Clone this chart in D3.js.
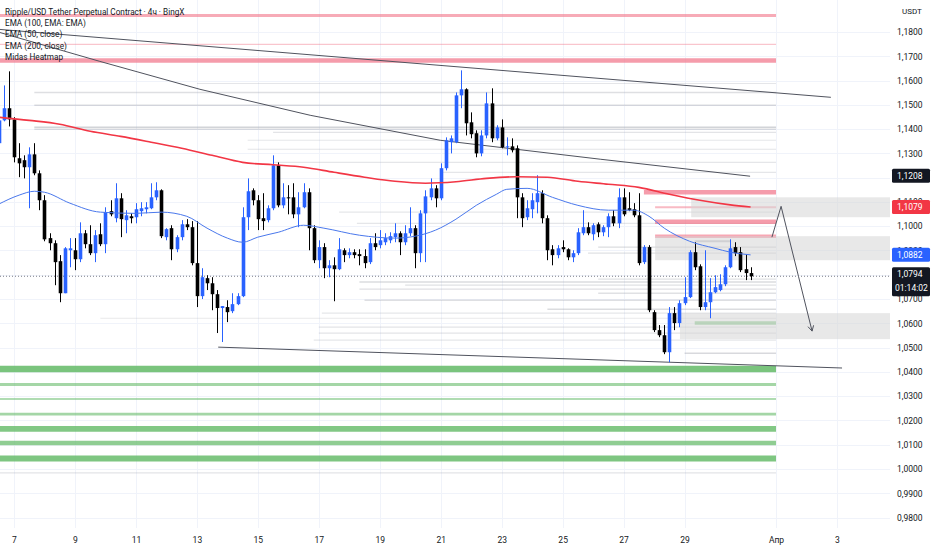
<!DOCTYPE html>
<html>
<head>
<meta charset="utf-8">
<title>Ripple/USD Tether Perpetual Contract 4h</title>
<script src="https://cdn.jsdelivr.net/npm/d3@7/dist/d3.min.js"></script>
<style>
  body { margin: 0; background: #fff; }
  svg { display: block; font-family: Roboto, "Noto Sans", sans-serif; }
</style>
</head>
<body>
<div id="chart"></div>
<script>
// ---- data -------------------------------------------------------------
// 4h candles, first one is 6 Mar 12:00 (bar -3), one row per day
var firstBar = -3;
var opens = [
  1.1342, 1.1436, 1.1486,
  1.1440, 1.1280, 1.1272, 1.1243, 1.1296, 1.1218,
  1.1107, 1.0951, 1.0930, 1.0856, 1.0724, 1.0901,
  1.0901, 1.0864, 1.0971, 1.0926, 1.0889, 1.0967,
  1.0926, 1.1062, 1.1033, 1.1115, 1.1025, 1.1041,
  1.1037, 1.1062, 1.1070, 1.1074, 1.1119, 1.1148,
  1.0955, 1.0992, 1.0905, 1.0955, 1.1008, 1.0996,
  1.0848, 1.0712, 1.0786, 1.0765, 1.0720, 1.0663,
  1.0667, 1.0650, 1.0679, 1.0712, 1.1037, 1.1148,
  1.1107, 1.1033, 1.1025, 1.1074, 1.1251, 1.1086,
  1.1119, 1.1119, 1.1049, 1.1078, 1.1140, 1.0992,
  1.0860, 1.0914, 1.0827, 1.0839, 1.0823, 1.0901,
  1.0881, 1.0893, 1.0885, 1.0877, 1.0852, 1.0930,
  1.0922, 1.0934, 1.0942, 1.0955, 1.0971, 1.0934,
  1.0971, 1.0992, 1.0889, 1.1053, 1.1119, 1.1156,
  1.1115, 1.1239, 1.1346, 1.1346, 1.1539, 1.1564,
  1.1428, 1.1383, 1.1300, 1.1374, 1.1506, 1.1362,
  1.1407, 1.1325, 1.1329, 1.1321, 1.1119, 1.1037,
  1.1070, 1.1099, 1.1136, 1.1033, 1.0905, 1.0881,
  1.0914, 1.0905, 1.0872, 1.0889, 1.0971, 1.0996,
  1.0967, 1.1008, 1.0975, 1.0996, 1.1041, 1.1012,
  1.1119, 1.1074, 1.1070, 1.1045, 1.0852, 1.0914,
  1.0646, 1.0572, 1.0551, 1.0481, 1.0642, 1.0601,
  1.0683, 1.0708, 1.0893, 1.0835, 1.0667, 1.0687,
  1.0728, 1.0737, 1.0761, 1.0831, 1.0914, 1.0893,
  1.0823, 1.0807
];
var highs = [
  1.1444, 1.1580, 1.1638,
  1.1449, 1.1342, 1.1292, 1.1325, 1.1342, 1.1230,
  1.1128, 1.0971, 1.0942, 1.0881, 1.0914, 1.0951,
  1.0951, 1.1016, 1.0984, 1.1004, 1.0984, 1.1012,
  1.1078, 1.1107, 1.1177, 1.1136, 1.1066, 1.1053,
  1.1095, 1.1099, 1.1099, 1.1177, 1.1181, 1.1152,
  1.0992, 1.1004, 1.0963, 1.1025, 1.1029, 1.1021,
  1.1021, 1.0827, 1.0798, 1.0790, 1.0737, 1.0671,
  1.0695, 1.0724, 1.0724, 1.1078, 1.1197, 1.1156,
  1.1128, 1.1136, 1.1086, 1.1292, 1.1263, 1.1177,
  1.1169, 1.1177, 1.1140, 1.1177, 1.1156, 1.1004,
  1.0942, 1.0930, 1.0860, 1.0872, 1.0951, 1.0909,
  1.0909, 1.0905, 1.0905, 1.0905, 1.0951, 1.0971,
  1.0984, 1.0971, 1.0975, 1.1012, 1.0979, 1.1004,
  1.1078, 1.1004, 1.1066, 1.1148, 1.1197, 1.1169,
  1.1259, 1.1366, 1.1374, 1.1551, 1.1642, 1.1568,
  1.1469, 1.1395, 1.1395, 1.1551, 1.1568, 1.1416,
  1.1440, 1.1366, 1.1362, 1.1333, 1.1136, 1.1107,
  1.1136, 1.1210, 1.1148, 1.1045, 1.0922, 1.0922,
  1.0942, 1.0909, 1.0901, 1.0992, 1.1066, 1.1016,
  1.1012, 1.1016, 1.1004, 1.1053, 1.1066, 1.1156,
  1.1156, 1.1140, 1.1095, 1.1136, 1.0922, 1.0922,
  1.0654, 1.0593, 1.0593, 1.0667, 1.0667, 1.0695,
  1.0790, 1.0901, 1.0934, 1.0843, 1.0901, 1.0786,
  1.0798, 1.0802, 1.0839, 1.0946, 1.0934, 1.0914,
  1.0885, 1.0831
];
var lows = [
  1.1329, 1.1432, 1.1411,
  1.1263, 1.1202, 1.1197, 1.1074, 1.1210, 1.1066,
  1.0938, 1.0901, 1.0757, 1.0687, 1.0724, 1.0831,
  1.0819, 1.0852, 1.0909, 1.0881, 1.0852, 1.0918,
  1.0889, 1.1041, 1.1016, 1.0955, 1.0971, 1.1012,
  1.1012, 1.1041, 1.1053, 1.1070, 1.1107, 1.0951,
  1.0942, 1.0860, 1.0893, 1.0942, 1.0984, 1.0839,
  1.0667, 1.0700, 1.0737, 1.0654, 1.0560, 1.0523,
  1.0605, 1.0642, 1.0675, 1.0708, 1.0984, 1.1086,
  1.0984, 1.0984, 1.1016, 1.1066, 1.1078, 1.1074,
  1.1049, 1.1033, 1.0996, 1.1074, 1.0901, 1.0848,
  1.0827, 1.0786, 1.0790, 1.0691, 1.0819, 1.0852,
  1.0868, 1.0868, 1.0839, 1.0827, 1.0844, 1.0901,
  1.0909, 1.0922, 1.0930, 1.0934, 1.0881, 1.0922,
  1.0959, 1.0827, 1.0852, 1.0852, 1.1107, 1.1078,
  1.1107, 1.1230, 1.1300, 1.1342, 1.1486, 1.1374,
  1.1362, 1.1284, 1.1288, 1.1362, 1.1346, 1.1354,
  1.1321, 1.1292, 1.1304, 1.1033, 1.0996, 1.1025,
  1.1033, 1.1053, 1.1012, 1.0860, 1.0839, 1.0868,
  1.0893, 1.0860, 1.0852, 1.0881, 1.0963, 1.0963,
  1.0942, 1.0955, 1.0959, 1.0955, 1.1000, 1.0992,
  1.1041, 1.1062, 1.1037, 1.0839, 1.0844, 1.0646,
  1.0564, 1.0543, 1.0473, 1.0440, 1.0572, 1.0584,
  1.0675, 1.0704, 1.0819, 1.0654, 1.0654, 1.0621,
  1.0724, 1.0732, 1.0753, 1.0827, 1.0877, 1.0811,
  1.0778, 1.0778
];
var closes = [
  1.1436, 1.1486, 1.1440,
  1.1284, 1.1259, 1.1243, 1.1296, 1.1218, 1.1107,
  1.0946, 1.0930, 1.0852, 1.0724, 1.0909, 1.0909,
  1.0864, 1.0971, 1.0926, 1.0889, 1.0963, 1.0926,
  1.1058, 1.1049, 1.1115, 1.1029, 1.1045, 1.1033,
  1.1070, 1.1074, 1.1078, 1.1119, 1.1148, 1.0959,
  1.0988, 1.0905, 1.0955, 1.1008, 1.0996, 1.0848,
  1.0712, 1.0790, 1.0765, 1.0720, 1.0663, 1.0671,
  1.0646, 1.0679, 1.0712, 1.1037, 1.1144, 1.1107,
  1.1029, 1.1021, 1.1074, 1.1251, 1.1086, 1.1119,
  1.1115, 1.1049, 1.1078, 1.1140, 1.0992, 1.0860,
  1.0914, 1.0827, 1.0839, 1.0823, 1.0905, 1.0881,
  1.0893, 1.0881, 1.0877, 1.0848, 1.0930, 1.0914,
  1.0942, 1.0951, 1.0959, 1.0971, 1.0934, 1.0971,
  1.0992, 1.0889, 1.1053, 1.1123, 1.1156, 1.1115,
  1.1239, 1.1354, 1.1362, 1.1539, 1.1564, 1.1424,
  1.1379, 1.1300, 1.1374, 1.1506, 1.1362, 1.1407,
  1.1325, 1.1329, 1.1313, 1.1119, 1.1033, 1.1074,
  1.1107, 1.1136, 1.1033, 1.0901, 1.0881, 1.0909,
  1.0905, 1.0872, 1.0889, 1.0975, 1.0996, 1.0971,
  1.1004, 1.0975, 1.0996, 1.1041, 1.1012, 1.1119,
  1.1049, 1.1066, 1.1045, 1.0848, 1.0914, 1.0654,
  1.0572, 1.0551, 1.0481, 1.0642, 1.0601, 1.0683,
  1.0708, 1.0893, 1.0831, 1.0667, 1.0687, 1.0728,
  1.0749, 1.0761, 1.0831, 1.0909, 1.0889, 1.0819,
  1.0807, 1.0794
];

// moving averages at a few bars
var ema50Bars = [-3, 1, 4, 6, 11, 17, 24, 29, 34, 38, 42, 45, 48, 52, 57, 61, 68, 75, 79, 83,
  87, 91, 95, 97, 101, 106, 111, 117, 122, 125, 128, 133, 138, 141, 145];
var ema50 = [1.1091, 1.1128, 1.1144, 1.1140, 1.1095, 1.1058, 1.1053, 1.1058, 1.1041, 1.0992,
  1.0951, 1.0934, 1.0955, 1.0975, 1.1004, 1.0992, 1.0963, 1.0951, 1.0959, 1.0984,
  1.1029, 1.1086, 1.1132, 1.1152, 1.1156, 1.1119, 1.1086, 1.1066, 1.1066, 1.1041,
  1.0992, 1.0938, 1.0909, 1.0893, 1.0882];
var ema200Bars = [-3, 3, 9, 15, 21, 27, 33, 39, 45, 51, 57, 63, 69, 75, 81, 87, 93, 99, 105,
  111, 117, 123, 129, 135, 141, 145];
var ema200 = [1.1449, 1.1436, 1.1420, 1.1391, 1.1370, 1.1346, 1.1321, 1.1292, 1.1263, 1.1253,
  1.1243, 1.1222, 1.1202, 1.1185, 1.1177, 1.1183, 1.1197, 1.1204, 1.1202, 1.1185,
  1.1173, 1.1160, 1.1132, 1.1107, 1.1088, 1.1079];

// Midas heatmap levels: [fromBar, price, strength 0..1], all end at bar 150
var redLevels = [
  [-3, 1.1868, 0.5], [-3, 1.1749, 0.15], [-3, 1.1683, 0.7],
  [124, 1.1140, 0.7], [126.2, 1.1078, 0.3], [126.2, 1.1018, 0.7], [126.2, 1.0959, 0.55]
];
var greenLevels = [
  [-3, 1.0412, 0.95], [-3, 1.0348, 0.45], [-3, 1.0288, 0.3], [-3, 1.0226, 0.45],
  [-3, 1.0165, 0.85], [-3, 1.0107, 0.7], [-3, 1.0043, 0.9], [134, 1.0601, 0.55]
];
// grey volume levels: [fromBar, toBar, price, strength]
var greyLevels = [
  [36, 150, 1.1588, 0.12], [4, 150, 1.1551, 0.25], [4, 150, 1.1498, 0.3],
  [4, 150, 1.1407, 0.45], [4, 150, 1.1399, 0.25], [51, 150, 1.1387, 0.15],
  [46, 150, 1.1354, 0.12], [46, 150, 1.1317, 0.15], [51, 150, 1.1263, 0.12],
  [84, 150, 1.1222, 0.12], [64, 150, 1.1058, 0.12], [67.5, 150, 1.1012, 0.12],
  [115, 150, 1.0914, 0.3], [113, 150, 1.0889, 0.2], [134, 141, 1.0938, 0.6],
  [115, 150, 1.0782, 0.2], [68, 150, 1.0770, 0.3], [77, 150, 1.0757, 0.2],
  [68, 150, 1.0741, 0.25], [115, 150, 1.0724, 0.2], [69, 150, 1.0695, 0.25],
  [105, 150, 1.0658, 0.3], [60.6, 150, 1.0642, 0.12], [17, 150, 1.0621, 0.08],
  [60, 150, 1.0584, 0.15], [60, 150, 1.0560, 0.15], [59, 150, 1.0531, 0.12],
  [132, 150, 1.0477, 0.35], [-3, 150, 0.9984, 0.15]
];

// drawings: zones [fromBar, top, bottom] run to the right edge
var zones = [[133.3, 1.1119, 1.1037], [126.2, 1.0959, 1.0860], [131.1, 1.0642, 1.0535]];
var trendA = [[-3, 1.1811], [160.8, 1.1531]];
var trendB = [[-2.8, 1.1798], [16.9, 1.1679], [36.6, 1.1564], [58.3, 1.1457],
  [83.9, 1.1354], [115.4, 1.1276], [144.9, 1.1206]];
var trendC = [[40.2, 1.0502], [163, 1.0416]];
var arrowPath = [[149.2, 1.0955], [151.0, 1.1082], [157.1, 1.0568]];

var timeTicks = ['2025-03-07', '2025-03-09', '2025-03-11', '2025-03-13', '2025-03-15',
  '2025-03-17', '2025-03-19', '2025-03-21', '2025-03-23', '2025-03-25', '2025-03-27',
  '2025-03-29', '2025-04-01', '2025-04-03'];
var monthNames = ['Янв', 'Фев', 'Мар', 'Апр', 'Май', 'Июн', 'Июл', 'Авг', 'Сен', 'Окт', 'Ноя', 'Дек'];

var tagPrices = [1.1208, 1.1079, 1.0882];
var tagColors = ['#131722', '#f23645', '#2962ff'];
var lastPrice = 1.0794;
var countdown = '01:14:02';

var legendLines = ['Ripple/USD Tether Perpetual Contract · 4ч · BingX',
  'EMA (100, EMA: EMA)', 'EMA (50, close)', 'EMA (200, close)', 'Midas Heatmap'];

// ---- chart ------------------------------------------------------------
var W = 932, H = 550;
var plotW = 890, plotH = 528;
var H4 = 4 * 3600 * 1000;
var day0 = Date.UTC(2025, 2, 7);
function bar(i) { return new Date(day0 + i * H4); }

var x = d3.scaleTime().domain([bar(0), bar(150)]).range([14, 776]);
var y = d3.scaleLinear().domain([1.0, 1.18]).range([469, 32]);
var priceTicks = d3.ticks(0.98, 1.18, 20);
var fmt = function(v) { return d3.format('.4f')(v).replace('.', ','); };
var tickDates = timeTicks.map(function(d) { return new Date(d); });
// axis labels sitting right under a price tag are not shown
var axisTicks = priceTicks.filter(function(v) {
  return tagPrices.every(function(p) { return Math.abs(y(p) - y(v)) > 4; });
});

var svg = d3.select('#chart').append('svg')
  .attr('width', W)
  .attr('height', H);

svg.append('rect').attr('width', W).attr('height', H).attr('fill', '#fff');
svg.append('defs').append('clipPath').attr('id', 'plot-clip')
  .append('rect').attr('width', plotW).attr('height', plotH);

var plot = svg.append('g').attr('clip-path', 'url(#plot-clip)');

// grid
plot.append('g').selectAll('line').data(priceTicks).join('line')
  .attr('x1', 0).attr('x2', plotW)
  .attr('y1', function(d) { return Math.round(y(d)) + 0.5; })
  .attr('y2', function(d) { return Math.round(y(d)) + 0.5; })
  .attr('stroke', '#f0f3fa');
plot.append('g').selectAll('line').data(tickDates).join('line')
  .attr('x1', function(d) { return Math.round(x(d)) + 0.5; })
  .attr('x2', function(d) { return Math.round(x(d)) + 0.5; })
  .attr('y1', 0).attr('y2', plotH)
  .attr('stroke', '#f0f3fa');

// heatmap
plot.append('g').selectAll('line').data(greyLevels).join('line')
  .attr('x1', function(d) { return x(bar(d[0])); })
  .attr('x2', function(d) { return x(bar(d[1])); })
  .attr('y1', function(d) { return y(d[2]); })
  .attr('y2', function(d) { return y(d[2]); })
  .attr('stroke', '#a0a3ac')
  .attr('stroke-opacity', function(d) { return 0.2 + 0.6 * d[3]; })
  .attr('stroke-width', function(d) { return 1 + 1.5 * d[3]; });

function bandWidth(s) { return 1 + 6 * Math.pow(s, 1.5); }
function drawBands(rows, color) {
  plot.append('g').selectAll('line').data(rows).join('line')
    .attr('x1', function(d) { return x(bar(d[0])); })
    .attr('x2', x(bar(150)))
    .attr('y1', function(d) { return y(d[1]); })
    .attr('y2', function(d) { return y(d[1]); })
    .attr('stroke', color)
    .attr('stroke-opacity', function(d) { return 0.35 + 0.55 * d[2]; })
    .attr('stroke-width', function(d) { return bandWidth(d[2]); });
}
drawBands(redLevels, '#f2788c');
drawBands(greenLevels, '#66bb6a');

// zones
plot.append('g').selectAll('rect').data(zones).join('rect')
  .attr('x', function(d) { return x(bar(d[0])); })
  .attr('width', function(d) { return plotW - x(bar(d[0])); })
  .attr('y', function(d) { return y(d[1]); })
  .attr('height', function(d) { return y(d[2]) - y(d[1]); })
  .attr('fill', '#d6d6d6')
  .attr('fill-opacity', 0.55);

// trend lines
var pathLine = d3.line()
  .x(function(d) { return x(bar(d[0])); })
  .y(function(d) { return y(d[1]); });
[trendA, trendB, trendC, arrowPath].forEach(function(pts) {
  plot.append('path')
    .attr('d', pathLine(pts))
    .attr('fill', 'none')
    .attr('stroke', '#50535e')
    .attr('stroke-width', 1);
});
// arrow head at the end of the projection
(function() {
  var a = arrowPath[arrowPath.length - 2], b = arrowPath[arrowPath.length - 1];
  var x1 = x(bar(a[0])), y1 = y(a[1]), x2 = x(bar(b[0])), y2 = y(b[1]);
  var ang = Math.atan2(y2 - y1, x2 - x1), len = 6;
  var pts = [ang + Math.PI - 0.5, ang + Math.PI + 0.5].map(function(t) {
    return [x2 + len * Math.cos(t), y2 + len * Math.sin(t)];
  });
  plot.append('path')
    .attr('d', 'M' + pts[0] + 'L' + [x2, y2] + 'L' + pts[1])
    .attr('fill', 'none')
    .attr('stroke', '#50535e');
})();

// last price line
plot.append('line')
  .attr('x1', 0).attr('x2', plotW)
  .attr('y1', y(lastPrice)).attr('y2', y(lastPrice))
  .attr('stroke', '#787b86')
  .attr('stroke-dasharray', '1 2');

// candles
var candles = opens.map(function(o, k) {
  return { t: bar(firstBar + k), o: o, h: highs[k], l: lows[k], c: closes[k] };
});
function candleColor(d) { return d.c >= d.o ? '#2962ff' : '#000000'; }
var bw = 3.6;
var cg = plot.append('g').selectAll('g').data(candles).join('g');
cg.append('line')
  .attr('x1', function(d) { return Math.round(x(d.t)) + 0.5; })
  .attr('x2', function(d) { return Math.round(x(d.t)) + 0.5; })
  .attr('y1', function(d) { return y(d.h); })
  .attr('y2', function(d) { return y(d.l); })
  .attr('stroke', candleColor);
cg.append('rect')
  .attr('x', function(d) { return Math.round(x(d.t)) + 0.5 - bw / 2; })
  .attr('width', bw)
  .attr('y', function(d) { return y(Math.max(d.o, d.c)); })
  .attr('height', function(d) { return Math.max(1, Math.abs(y(d.o) - y(d.c))); })
  .attr('fill', candleColor);

// EMAs
var emaLine = d3.line()
  .x(function(d) { return x(bar(d[0])); })
  .y(function(d) { return y(d[1]); })
  .curve(d3.curveMonotoneX);
plot.append('path')
  .attr('d', emaLine(d3.zip(ema200Bars, ema200)))
  .attr('fill', 'none')
  .attr('stroke', '#f23645')
  .attr('stroke-width', 1.6);
plot.append('path')
  .attr('d', emaLine(d3.zip(ema50Bars, ema50)))
  .attr('fill', 'none')
  .attr('stroke', '#4a78ec')
  .attr('stroke-width', 1);

// legend
svg.append('g').selectAll('text').data(legendLines).join('text')
  .attr('x', 5)
  .attr('y', function(d, k) { return 12 + k * 11.3; })
  .attr('dy', '0.35em')
  .attr('font-size', 8.2)
  .attr('fill', '#131722')
  .text(function(d) { return d; });

// price axis
var yAxis = svg.append('g')
  .attr('transform', 'translate(897,0)')
  .call(d3.axisRight(y).tickValues(axisTicks).tickFormat(fmt).tickSize(0).tickPadding(0));
yAxis.attr('font-family', null).attr('font-size', 8.5);
yAxis.select('.domain').remove();
yAxis.selectAll('text').attr('fill', '#131722');

svg.append('text')
  .attr('x', 902).attr('y', 11).attr('dy', '0.35em')
  .attr('font-size', 8)
  .attr('fill', '#131722')
  .text('USDT');

// time axis
var xAxis = svg.append('g')
  .attr('transform', 'translate(0,537)')
  .call(d3.axisBottom(x).tickValues(tickDates).tickSize(0).tickPadding(0)
    .tickFormat(function(d) {
      return d.getUTCDate() === 1 ? monthNames[d.getUTCMonth()] : String(d.getUTCDate());
    }));
xAxis.attr('font-family', null).attr('font-size', 8.5);
xAxis.select('.domain').remove();
xAxis.selectAll('text').attr('fill', '#131722');

// price tags
var tags = svg.append('g');
tagPrices.forEach(function(p, k) {
  tags.append('rect')
    .attr('x', 892).attr('y', y(p) - 7)
    .attr('width', 38).attr('height', 14)
    .attr('rx', 1.5)
    .attr('fill', tagColors[k]);
  tags.append('text')
    .attr('x', 897).attr('y', y(p)).attr('dy', '0.35em')
    .attr('font-size', 8.5)
    .attr('fill', '#fff')
    .text(fmt(p));
});
tags.append('rect')
  .attr('x', 892).attr('y', y(lastPrice) - 9)
  .attr('width', 38).attr('height', 29)
  .attr('rx', 1.5)
  .attr('fill', '#131722');
tags.append('text')
  .attr('x', 897).attr('y', y(lastPrice) - 2).attr('dy', '0.35em')
  .attr('font-size', 8.5).attr('fill', '#fff')
  .text(fmt(lastPrice));
tags.append('text')
  .attr('x', 895).attr('y', y(lastPrice) + 12).attr('dy', '0.35em')
  .attr('font-size', 8.5).attr('fill', '#fff')
  .text(countdown);
</script>
</body>
</html>
